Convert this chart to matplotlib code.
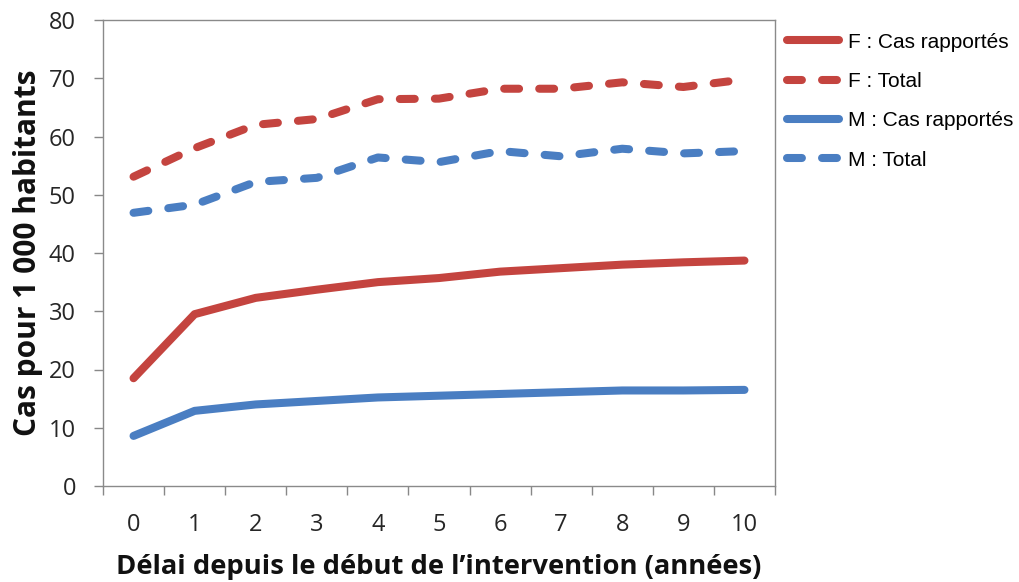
import matplotlib
matplotlib.use("Agg")
import matplotlib.pyplot as plt
import numpy as np

years = list(range(0, 11))
f_reported = [18.5, 29.5, 32.3, 33.7, 35.0, 35.7, 36.8, 37.4, 38.0, 38.4, 38.7]
f_total = [53.1, 58.0, 62.0, 63.0, 66.4, 66.5, 68.2, 68.2, 69.3, 68.5, 69.8]
m_reported = [8.6, 12.9, 14.0, 14.6, 15.2, 15.5, 15.8, 16.1, 16.4, 16.4, 16.5]
m_total = [46.9, 48.3, 52.2, 52.9, 56.4, 55.6, 57.5, 56.6, 57.9, 57.1, 57.5]
labels = ["F : Cas rapportés", "F : Total", "M : Cas rapportés", "M : Total"]
x_ticklabels = [str(y) for y in years]
y_ticks = [0, 10, 20, 30, 40, 50, 60, 70, 80]

red = "#C4443F"
blue = "#4A7EC2"

fig = plt.figure(figsize=(10.2, 5.82), dpi=100)
ax = fig.add_axes([103/1020, 1-486/582, (775-103)/1020, (486-20)/582])

lw = 5.8
dash = (1.85, 2.5)
ax.plot(years, f_reported, color=red, lw=lw, solid_capstyle="round", solid_joinstyle="round", label=labels[0])
ax.plot(years, f_total, color=red, lw=lw, linestyle=(0, dash), dash_capstyle="round", label=labels[1])
ax.plot(years, m_reported, color=blue, lw=lw, solid_capstyle="round", solid_joinstyle="round", label=labels[2])
ax.plot(years, m_total, color=blue, lw=lw, linestyle=(0, dash), dash_capstyle="round", label=labels[3])

ax.set_xlim(-0.5, 10.5)
ax.set_ylim(0, 80)
ax.set_yticks(y_ticks)
ax.set_xticks(years)
ax.set_xticklabels(x_ticklabels)
ax.set_xticks(np.arange(-0.5, 11, 1), minor=True)
ax.tick_params(axis="x", which="major", length=0, pad=19.5)
ax.tick_params(axis="x", which="minor", length=6.5, width=1, color="#888888", direction="out")
ax.tick_params(axis="y", length=6.5, width=1, color="#888888", direction="out", pad=13)
for lab in ax.get_xticklabels() + ax.get_yticklabels():
    lab.set_fontfamily("Open Sans")
    lab.set_fontsize(17)
    lab.set_color("#262626")
for s in ax.spines.values():
    s.set_color("#8a8a8a")
    s.set_linewidth(1)

ax.set_xlabel("Délai depuis le début de l’intervention (années)", fontfamily="Open Sans",
              fontweight="bold", fontsize=19.7, labelpad=12, color="#111111")
ax.set_ylabel("Cas pour 1 000 habitants", fontfamily="Open Sans", fontweight="bold",
              fontsize=21.5, labelpad=4, color="#111111")

leg = fig.legend(loc="upper left", bbox_to_anchor=(787/1020, 1-32.5/582), frameon=False,
                 prop={"family": "Liberation Sans", "size": 15}, handlelength=2.5,
                 handletextpad=0.45, labelspacing=0.98, borderpad=0, borderaxespad=0)

fig.savefig("out.png", dpi=100)
